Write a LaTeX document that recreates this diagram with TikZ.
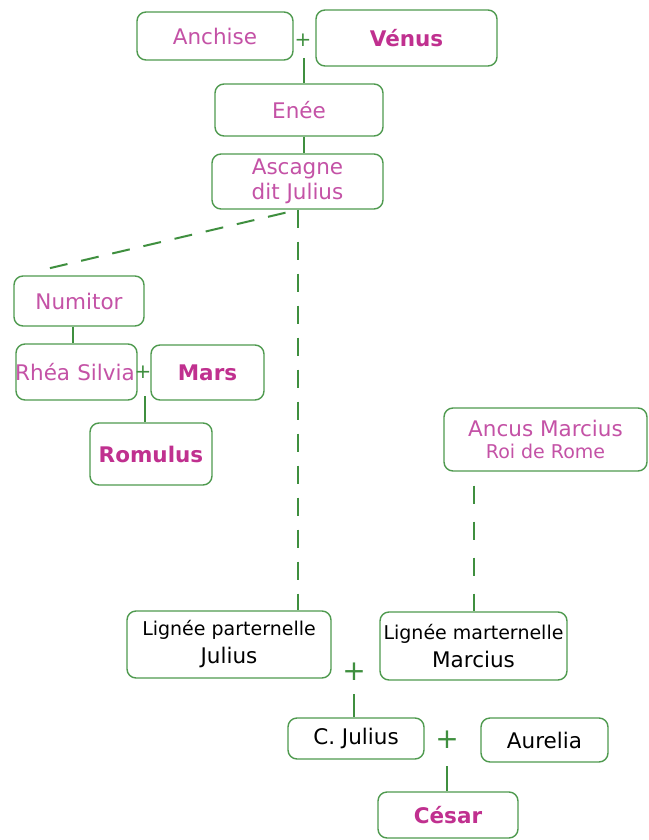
\documentclass[tikz,border=0pt]{standalone}
\usepackage{fontspec}
\setmainfont{DejaVu Sans}
\definecolor{boxgreen}{HTML}{4F9A4F}
\definecolor{linegreen}{HTML}{3F8F3F}
\definecolor{rosetext}{HTML}{C452A6}
\definecolor{rosebold}{HTML}{C0308F}
\begin{document}
\begin{tikzpicture}[x=1pt,y=-1pt,
  person/.style={draw=boxgreen,line width=1.4pt,rounded corners=9pt,fill=white,
    inner sep=0pt,align=center,font=\fontsize{21.5}{26}\selectfont,text=rosetext},
  hero/.style={person,font=\fontsize{21.5}{26}\selectfont\bfseries,text=rosebold},
  plain/.style={person,text=black},
  plussign/.style={inner sep=0pt,text=linegreen},
  link/.style={draw=linegreen,line width=2pt},
  dlink/.style={link,dash pattern=on 18pt off 14pt}]
\useasboundingbox (0,0) rectangle (648,840);

\node[person,minimum width=156pt,minimum height=48pt] (anchise) at (215,36) {Anchise};
\node[hero,minimum width=181pt,minimum height=56pt] (venus) at (406.5,38) {Vénus};
\node[plussign,font=\fontsize{20}{20}\selectfont] (plusa) at (303,40) {+};
\node[person,minimum width=168pt,minimum height=52pt] (enee) at (299,110) {Enée};
\node[person,minimum width=171pt,minimum height=55pt] (ascagne) at (297.5,181.5) {Ascagne\\[-1pt]dit Julius};

\node[person,minimum width=130pt,minimum height=50pt] (numitor) at (79,301) {Numitor};
\node[person,minimum width=121pt,minimum height=56pt,text width=121pt] (rhea) at (76.5,372) {\hspace*{-3pt}Rhéa Silvia};
\node[hero,minimum width=113pt,minimum height=55pt] (mars) at (207.5,372.5) {Mars};
\node[plussign,font=\fontsize{20}{20}\selectfont] (plusb) at (143,372) {+};
\node[hero,minimum width=122pt,minimum height=62pt] (romulus) at (151,454) {Romulus};

\node[person,minimum width=203pt,minimum height=63pt,font=\fontsize{21.5}{22}\selectfont] (ancus) at (545.5,439.5) {Ancus Marcius\\{\fontsize{19}{22}\selectfont Roi de Rome}};

\node[plain,minimum width=204pt,minimum height=67pt,font=\fontsize{21.5}{28}\selectfont] (lpat) at (229,644.5) {{\fontsize{19}{22}\selectfont Lignée parternelle}\\Julius};
\node[plain,minimum width=187pt,minimum height=68pt,font=\fontsize{21.5}{28}\selectfont] (lmat) at (473.5,646) {{\fontsize{19}{22}\selectfont Lignée marternelle}\\Marcius};
\node[plussign,font=\fontsize{28}{28}\selectfont] (plusc) at (354,672) {+};
\node[plain,minimum width=136pt,minimum height=41pt] (cjulius) at (356,738.5) {C. Julius};
\node[plussign,font=\fontsize{28}{28}\selectfont] (plusd) at (447,740) {+};
\node[plain,minimum width=127pt,minimum height=44pt] (aurelia) at (544.5,740) {Aurelia};
\node[hero,minimum width=140pt,minimum height=46pt] (cesar) at (448,815) {César};

% connectors
\coordinate (pa) at ([xshift=1pt,yshift=-18pt]plusa.center);
\draw[link] (pa) -- (pa |- enee.north);
\draw[link] (enee.south -| pa) -- (ascagne.north -| pa);
\draw[dlink] (ascagne.south) -- (ascagne.south |- lpat.north);
\draw[dlink] ([xshift=-12pt,yshift=-3pt]ascagne.south) -- ([xshift=-34pt,yshift=6pt]numitor.north);
\coordinate (nb) at ([xshift=-6pt]numitor.south);
\draw[link] (nb) -- (nb |- rhea.north);
\coordinate (pb) at ([xshift=2pt,yshift=-24pt]plusb.center);
\draw[link] (pb) -- (pb |- romulus.north);
\coordinate (ab) at ([yshift=-14pt]ancus.south);
\draw[link,dash pattern=on 18pt off 18pt] (ab -| lmat.north) -- (lmat.north);
\coordinate (pc) at ([yshift=-22pt]plusc.center);
\draw[link] (pc) -- (pc |- cjulius.north);
\coordinate (pd) at ([yshift=-26pt]plusd.center);
\draw[link] (pd) -- (pd |- cesar.north);
\end{tikzpicture}
\end{document}
